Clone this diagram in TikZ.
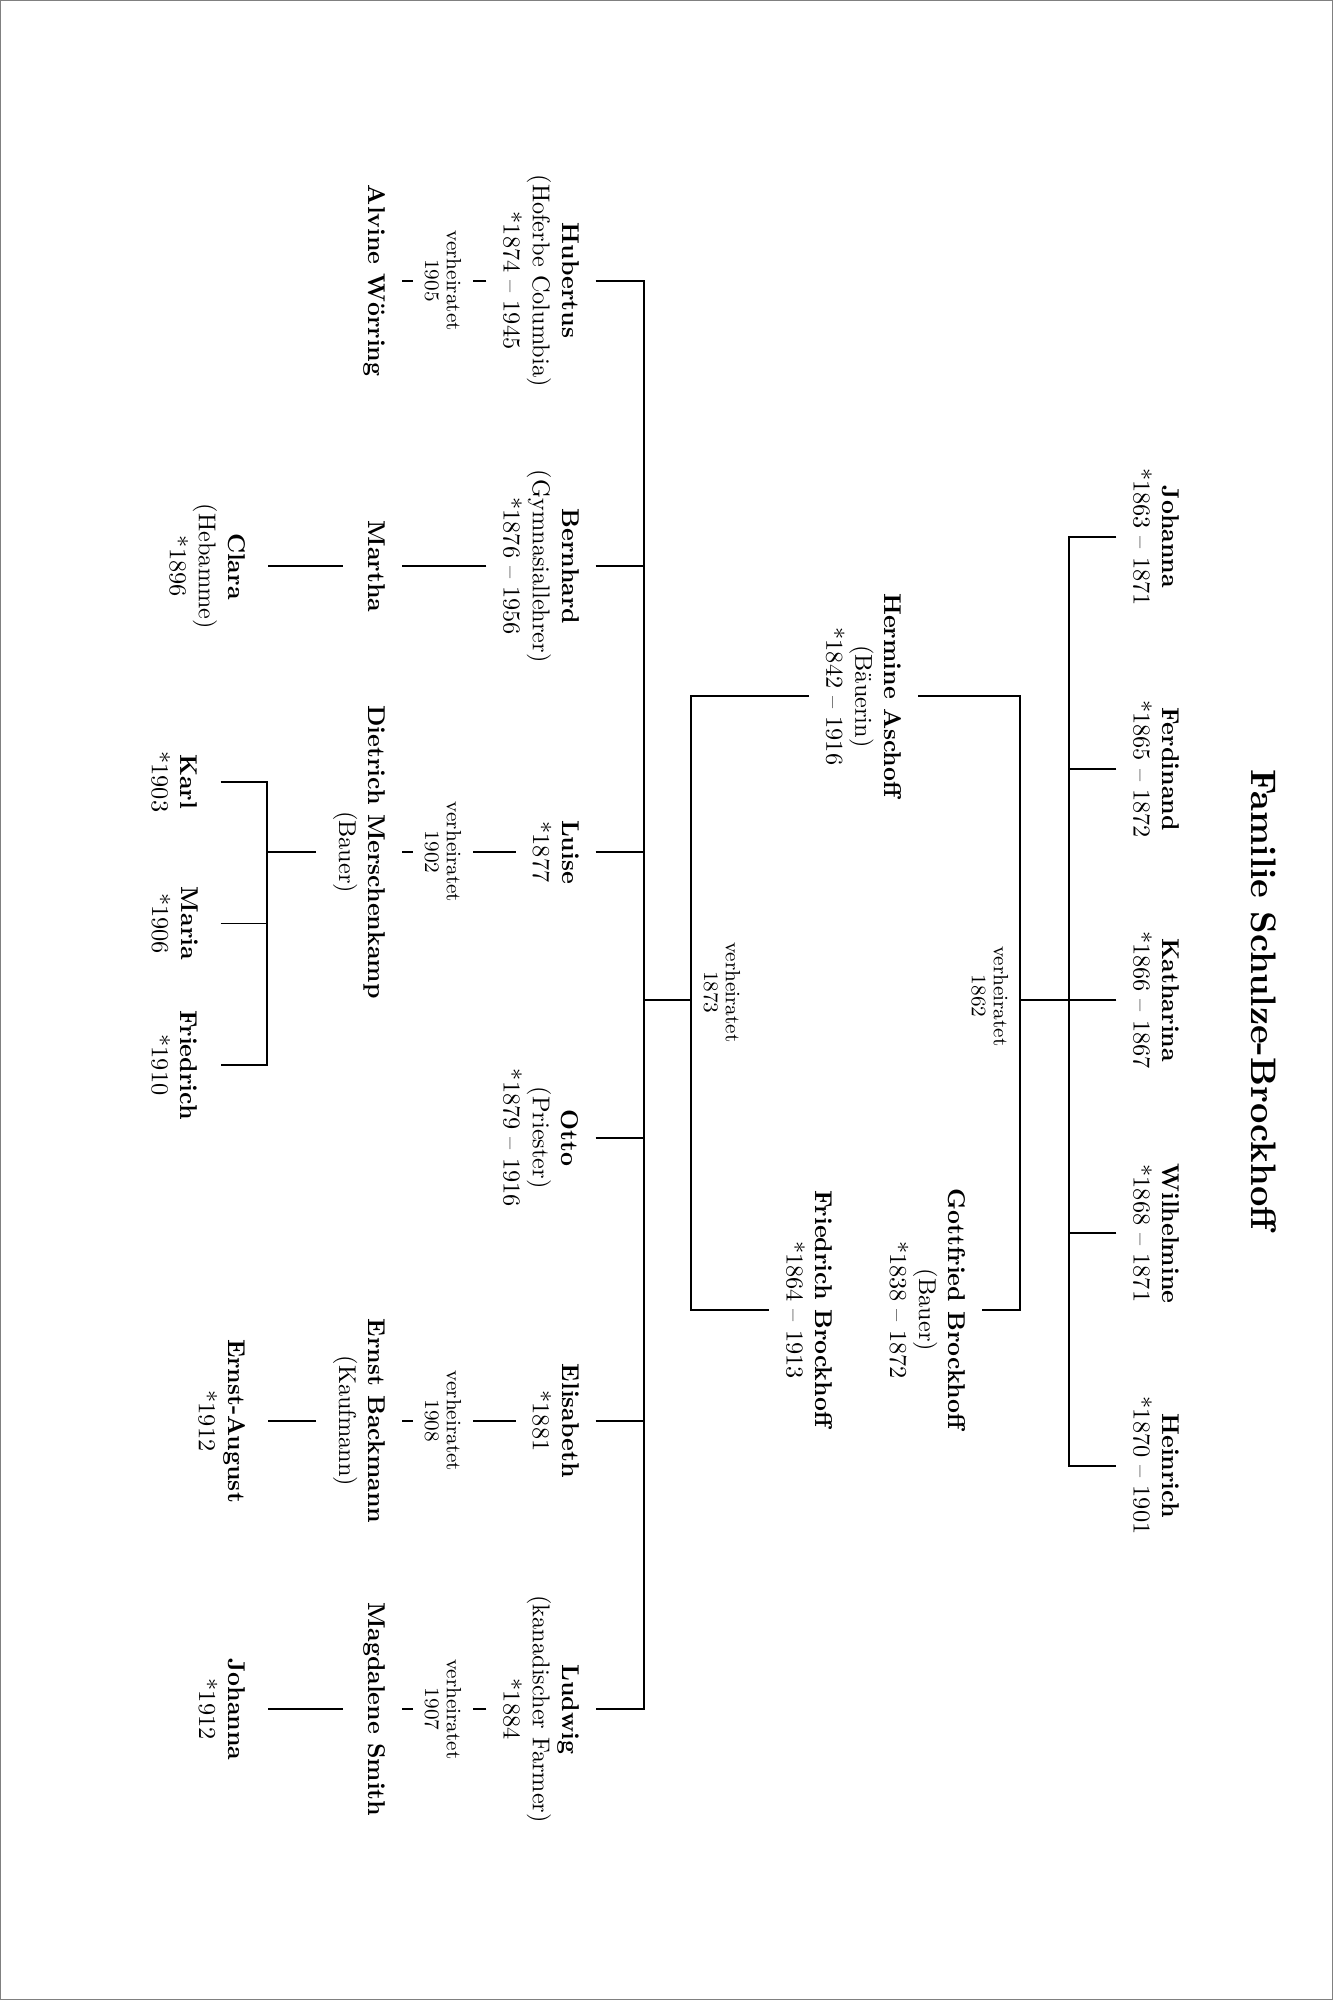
\documentclass[tikz,border=0pt]{standalone}

\begin{document}
\begin{tikzpicture}[x=0.525pt, y=-0.525pt, line width=0.8pt,
  every node/.style={rotate=-90, align=center, inner xsep=1pt},
  kid/.style={anchor=north, inner ysep=6.5pt},
  grandkid/.style={anchor=north, inner ysep=9pt},
  wed/.style={font={\fontsize{8.5}{9}\selectfont}, inner ysep=4.5pt}]
\useasboundingbox (0,0) rectangle (1045,1568);
\draw[black!50, line width=0.6pt] (0,0) rectangle (1045,1568);

\node[scale=1.46] (title) at (991,785) {\textbf{Familie Schulze-Brockhoff}};

% first marriage, children
\node[kid] (jo) at (938,421) {\textbf{Johanna}\\{*}1863 \textendash{} 1871};
\node[kid] (fe) at (938,603) {\textbf{Ferdinand}\\{*}1865 \textendash{} 1872};
\node[kid] (ka) at (938,784) {\textbf{Katharina}\\{*}1866 \textendash{} 1867};
\node[kid] (wi) at (938,967) {\textbf{Wilhelmine}\\{*}1868 \textendash{} 1871};
\node[kid] (he) at (938,1149) {\textbf{Heinrich}\\{*}1870 \textendash{} 1901};

% parents
\node[kid] (her) at (720,546) {\textbf{Hermine Aschoff}\\(Bäuerin)\\{*}1842 \textendash{} 1916};
\node[kid] (got) at (770,1027) {\textbf{Gottfried Brockhoff}\\(Bauer)\\{*}1838 \textendash{} 1872};
\node[kid] (fri) at (666,1027) {\textbf{Friedrich Brockhoff}\\{*}1864 \textendash{} 1913};
\node[wed] (wed1) at (776,781) {verheiratet\\1862};
\node[wed] (wed2) at (566,778) {verheiratet\\1873};

\coordinate (k1) at (838,784);
\coordinate (m1) at (800,784);
\coordinate (m2) at (542,784);
\coordinate (k2) at (505,784);

\draw (jo.south) -| (k1) |- (he.south);
\draw (fe.south) -- (fe.south -| k1);
\draw (wi.south) -- (wi.south -| k1);
\draw (ka.south) -- (m1);
\draw (her.north) -| (m1) |- (got.north);
\draw (her.south) -| (m2) |- (fri.south);
\draw (m2) -- (k2);

% second marriage, children
\node[kid] (hub) at (467,220) {\textbf{Hubertus}\\(Hoferbe Columbia)\\{*}1874 \textendash{} 1945};
\node[kid] (ber) at (467,444) {\textbf{Bernhard}\\(Gymnasiallehrer)\\{*}1876 \textendash{} 1956};
\node[kid] (lui) at (467,668) {\textbf{Luise}\\{*}1877};
\node[kid] (ott) at (467,892) {\textbf{Otto}\\(Priester)\\{*}1879 \textendash{} 1916};
\node[kid] (eli) at (467,1114) {\textbf{Elisabeth}\\{*}1881};
\node[kid] (lud) at (467,1340) {\textbf{Ludwig}\\(kanadischer Farmer)\\{*}1884};

\draw (hub.north) -| (k2) |- (lud.north);
\foreach \n in {ber,lui,ott,eli}
  \draw (\n.north) -- (\n.north -| k2);

% spouses and grandchildren
\node[wed, anchor=north] (hubv) at (371,220) {verheiratet\\1905};
\node[wed, anchor=north] (luiv) at (371,668) {verheiratet\\1902};
\node[wed, anchor=north] (eliv) at (371,1114) {verheiratet\\1908};
\node[wed, anchor=north] (ludv) at (371,1340) {verheiratet\\1907};

\node[kid, text depth=3.5pt] (alv) at (315,220) {\textbf{Alvine Wörring}};
\node[kid, text depth=3.5pt] (mar) at (315,444) {\textbf{Martha}};
\node[kid] (die) at (315,668) {\textbf{Dietrich Merschenkamp}\\(Bauer)};
\node[kid] (ern) at (315,1114) {\textbf{Ernst Backmann}\\(Kaufmann)};
\node[kid, text depth=3.5pt] (mag) at (315,1340) {\textbf{Magdalene Smith}};

\node[grandkid] (cla) at (210,444) {\textbf{Clara}\\(Hebamme)\\{*}1896};
\node[grandkid] (era) at (210,1114) {\textbf{Ernst-August}\\{*}1912};
\node[grandkid] (joh) at (210,1340) {\textbf{Johanna}\\{*}1912};
\node[grandkid] (kar) at (173,613) {\textbf{Karl}\\{*}1903};
\node[grandkid] (mari) at (173,724) {\textbf{Maria}\\{*}1906};
\node[grandkid] (frie) at (173,835) {\textbf{Friedrich}\\{*}1910};

\coordinate (k3) at (209,668);

\draw (hub.south) -- (hubv.north) (hubv.south) -- (alv.north);
\draw (ber.south) -- (mar.north) (mar.south) -- (cla.north);
\draw (lui.south) -- (luiv.north) (luiv.south) -- (die.north);
\draw (die.south) -- (k3);
\draw (kar.north) -| (k3) |- (frie.north);
\draw (mari.north) -- (mari.north -| k3);
\draw (eli.south) -- (eliv.north) (eliv.south) -- (ern.north) (ern.south) -- (era.north);
\draw (lud.south) -- (ludv.north) (ludv.south) -- (mag.north) (mag.south) -- (joh.north);
\end{tikzpicture}
\end{document}
